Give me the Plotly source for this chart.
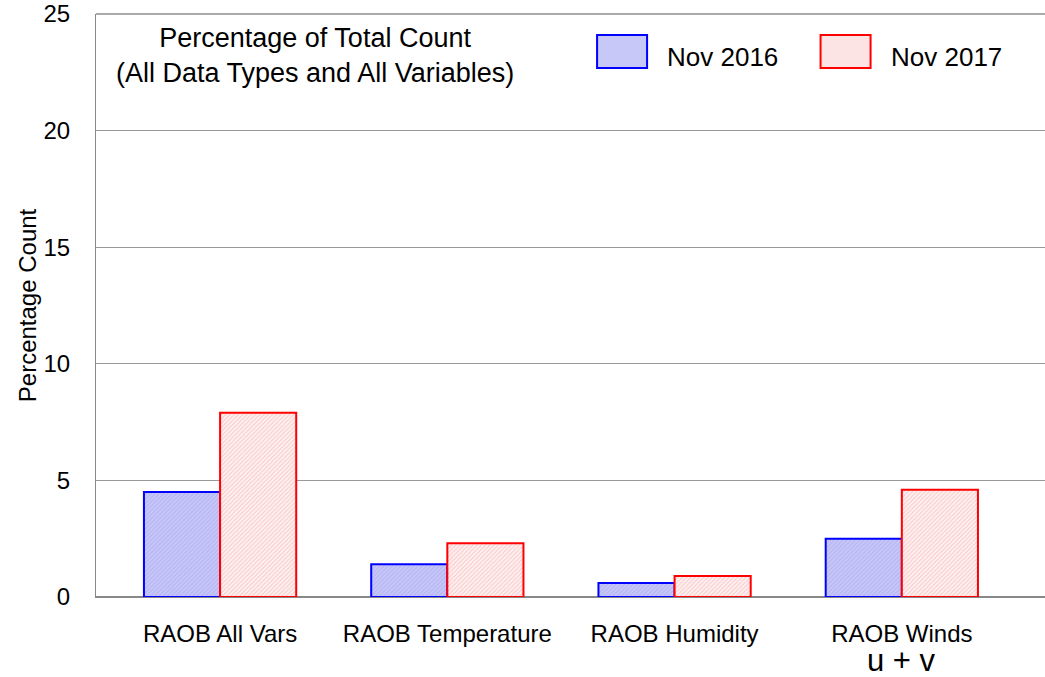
import plotly.graph_objects as go

categories = ['RAOB All Vars', 'RAOB Temperature', 'RAOB Humidity', 'RAOB Winds']
nov_2016 = [4.5, 1.4, 0.6, 2.5]
nov_2017 = [7.9, 2.3, 0.9, 4.6]
y_ticks = [0, 5, 10, 15, 20, 25]

FONT = 'Liberation Sans, Arial, Helvetica, sans-serif'

fig = go.Figure()

fig.add_trace(go.Bar(x=categories, y=nov_2016, name='Nov 2016',
                     marker=dict(color='#c6c6f6',
                                 line=dict(color='#0000ff', width=2),
                                 pattern=dict(shape='/', bgcolor='#c8c8f8', fgcolor='#a0a0ee',
                                              size=3, solidity=0.4))))
fig.add_trace(go.Bar(x=categories, y=nov_2017, name='Nov 2017',
                     marker=dict(color='#fde8e8',
                                 line=dict(color='#ff0000', width=2),
                                 pattern=dict(shape='/', bgcolor='#fff2f2', fgcolor='#f2a8a8',
                                              size=3, solidity=0.4))))

# legend drawn by hand so the boxes match the reference size
legend_items = [('Nov 2016', '#c8c8f8', '#0000ff', 0.528), ('Nov 2017', '#fde4e4', '#ff0000', 0.7635)]
for label, fill, edge, x0 in legend_items:
    fig.add_shape(type='rect', xref='paper', yref='paper',
                  x0=x0, x1=x0 + 0.0527, y0=0.9074, y1=0.9639,
                  fillcolor=fill, line=dict(color=edge, width=2))
    fig.add_annotation(text=label, xref='paper', yref='paper',
                       x=x0 + 0.0717, y=0.926, xanchor='left', yanchor='middle',
                       showarrow=False, font=dict(family=FONT, size=26, color='black'))

fig.add_annotation(text='Percentage of Total Count<br>(All Data Types and All Variables)',
                   xref='paper', yref='paper', x=0.231, y=0.928, xanchor='center', yanchor='middle',
                   showarrow=False, align='center',
                   font=dict(family=FONT, size=27, color='black'))

fig.add_annotation(text='u + v', xref='x', yref='paper', x='RAOB Winds', y=0,
                   yshift=-63, yanchor='middle', showarrow=False, borderpad=0,
                   font=dict(family=FONT, size=31, color='black'))

fig.update_layout(
    width=1045, height=677,
    margin=dict(l=96, r=0, t=14, b=80),
    plot_bgcolor='white', paper_bgcolor='white',
    barmode='group', bargap=0.33, bargroupgap=0,
    showlegend=False,
    font=dict(family=FONT, color='black'),
)
fig.update_xaxes(range=[-0.546, 3.63], showgrid=False, showline=True, linecolor='#888888',
                 automargin=False, ticks='', tickfont=dict(size=24), ticklabelstandoff=15)
fig.update_yaxes(range=[0, 25], tickvals=y_ticks, showgrid=True, gridcolor='#999999', gridwidth=1,
                 zeroline=True, zerolinecolor='#888888', showline=True, linecolor='#888888',
                 automargin=False, ticks='', tickfont=dict(size=24), ticklabelstandoff=20,
                 title=dict(text='Percentage Count', font=dict(size=24), standoff=0))
fig.add_shape(type='line', xref='paper', yref='paper', x0=0, x1=1, y0=1, y1=1,
              line=dict(color='#aaaaaa', width=2))

# drop the default 8px page margin so the figure fills the window
fig.write_html('out.html', config={'displayModeBar': False},
               post_script="document.body.style.margin='0';")
